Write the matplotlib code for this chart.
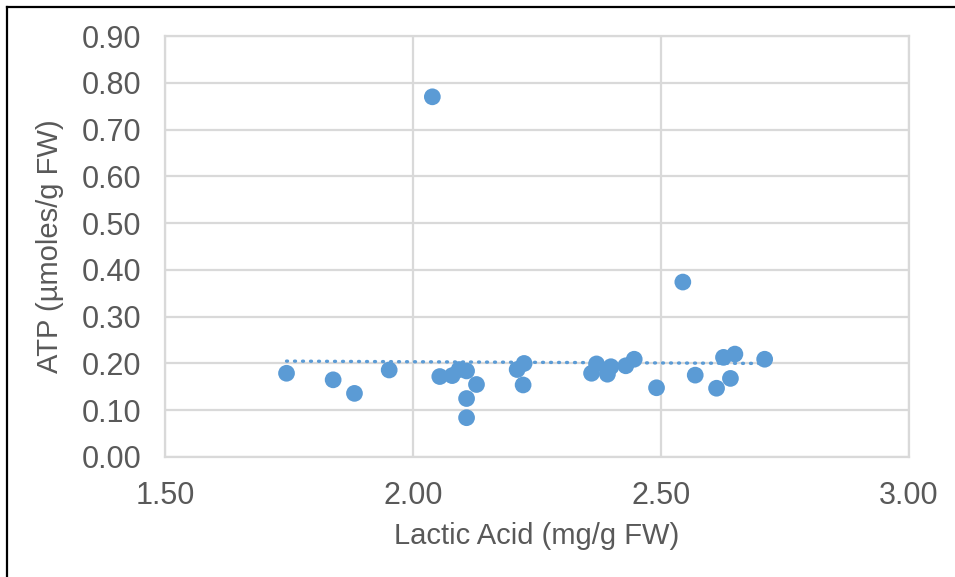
import numpy as np
import matplotlib
matplotlib.use("Agg")
import matplotlib.pyplot as plt
from matplotlib.lines import Line2D

plt.rcParams['font.family'] = ['Liberation Sans', 'DejaVu Sans']

# Lactic acid (mg/g FW) vs ATP (umoles/g FW)
lactic_acid = [1.745, 1.839, 1.882, 1.952, 2.039, 2.054, 2.079, 2.093, 2.108,
               2.108, 2.108, 2.128, 2.210, 2.224, 2.222, 2.360, 2.370, 2.392,
               2.399, 2.429, 2.446, 2.491, 2.544, 2.569, 2.612, 2.626, 2.640,
               2.649, 2.709]
atp = [0.179, 0.165, 0.136, 0.186, 0.770, 0.172, 0.174, 0.187, 0.184,
       0.125, 0.084, 0.155, 0.187, 0.200, 0.154, 0.179, 0.199, 0.177,
       0.193, 0.195, 0.209, 0.148, 0.374, 0.175, 0.147, 0.213, 0.168,
       0.220, 0.209]

x_ticks = [1.50, 2.00, 2.50, 3.00]
y_ticks = [0.0, 0.1, 0.2, 0.3, 0.4, 0.5, 0.6, 0.7, 0.8, 0.9]
x_title = "Lactic Acid (mg/g FW)"
y_title = "ATP (µmoles/g FW)"

point_color = "#5B9BD5"
text_color = "#595959"
grid_color = "#D9D9D9"

W, H = 955, 577
fig = plt.figure(figsize=(W / 100, H / 100), dpi=100)
ax = fig.add_axes([165 / W, 1 - 457 / H, (909 - 165) / W, (457 - 36) / H])

x = np.array(lactic_acid)
y = np.array(atp)
ax.scatter(x, y, s=145, color=point_color, edgecolors='none', zorder=3)

# linear trendline over the data range
slope, intercept = np.polyfit(x, y, 1)
xs = np.array([x.min(), x.max()])
ax.plot(xs, slope * xs + intercept, color=point_color, lw=2.4,
        linestyle=(0, (0.3, 2.1)), dash_capstyle='round', zorder=2)

ax.set_xlim(1.5, 3.0)
ax.set_ylim(0.0, 0.9)
ax.set_xticks(x_ticks)
ax.set_yticks(y_ticks)
ax.set_xticklabels([f"{v:.2f}" for v in x_ticks])
ax.set_yticklabels([f"{v:.2f}" for v in y_ticks])
ax.grid(True, color=grid_color, lw=1.6, zorder=0)
ax.set_axisbelow(True)
for side in ['top', 'right', 'left', 'bottom']:
    ax.spines[side].set_color(grid_color)
    ax.spines[side].set_linewidth(1.6)
ax.tick_params(axis='y', length=0, labelsize=22, labelcolor=text_color, pad=17)
ax.tick_params(axis='x', length=0, labelsize=22, labelcolor=text_color, pad=17)
ax.set_xlabel(x_title, fontsize=21, color=text_color, labelpad=8)
ax.set_ylabel(y_title, fontsize=21, color=text_color, labelpad=13)

# outer frame on the left and top edges
fig.add_artist(Line2D([7 / W, 7 / W], [0, 1 - 7 / H], transform=fig.transFigure,
                      color='black', lw=1.6))
fig.add_artist(Line2D([7 / W, 1], [1 - 7 / H, 1 - 7 / H], transform=fig.transFigure,
                      color='black', lw=1.6))

fig.savefig("out.png", dpi=100, facecolor='white')
